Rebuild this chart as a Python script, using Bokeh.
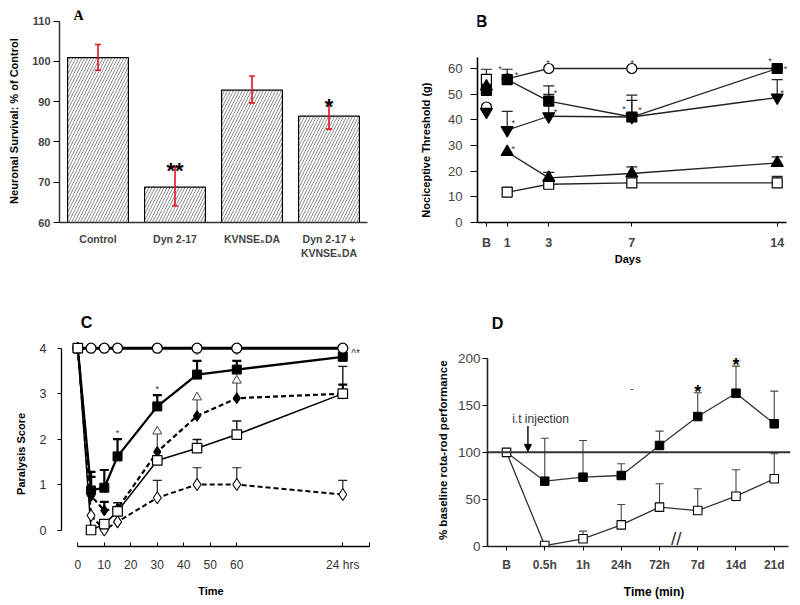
import math
from bokeh.plotting import figure
from bokeh.models import (Range1d, FixedTicker, Label, Whisker, TeeHead, Span,
                          Arrow, NormalHead, ColumnDataSource)
from bokeh.layouts import column, row
from bokeh.embed import file_html
from bokeh.resources import INLINE

FONT = "Liberation Sans"
SERIF = "Liberation Serif"
NAN = float("nan")
NB = "\u00a0"

# ---------------- Panel A data ----------------
a_categories = ["Control", "Dyn 2-17", "KVNSE\u2085DA", "Dyn 2-17 +\nKVNSE\u2085DA"]
a_mean = [100.95, 68.8, 92.9, 86.4]
a_err_low = [97.8, 64.1, 89.7, 83.2]
a_err_high = [104.2, 73.8, 96.4, 89.7]
a_sig = ["", "**", "", "*"]
a_yticks = [60, 70, 80, 90, 100, 110]

# ---------------- Panel B data ----------------
b_days = [0, 1, 3, 7, 14]
b_xlabels = ["B", "1", "3", "7", "14"]
b_yticks = [0, 10, 20, 30, 40, 50, 60]
b_open_circle = [45.0, 56.0, 60.0, 60.0, 60.0]
b_filled_square = [51.5, 55.7, 47.3, 41.1, 60.0]
b_down_tri = [43.1, 36.0, 41.4, 41.1, 48.7]
b_up_tri = [53.0, 27.5, 17.4, 19.1, 23.2]
b_open_square = [55.8, 11.8, 14.9, 15.4, 15.4]
b_open_square_err = [59.7, 13.6, 16.3, NAN, 18.0]
b_filled_square_err = [NAN, 59.7, 53.2, 49.6, NAN]
b_down_tri_err = [NAN, 43.3, 49.9, 47.6, 55.7]
b_up_tri_err = [NAN, NAN, 19.5, 21.7, 25.6]
# small significance asterisks (day, value)
b_star_day = [0.65, 1.45, 2.97, 3.32, 3.32, 1.29, 1.29, 7.02, 6.62, 7.39, 13.65, 14.4, 14.24]
b_star_val = [60.0, 57.4, 62.2, 50.5, 43.1, 38.6, 28.8, 62.2, 44.4, 44.0, 63.0, 60.0, 50.3]

# ---------------- Panel C data ----------------
c_time = [0, 5, 10, 15, 30, 45, 60, 100]          # 100 = the "24 hrs" slot of the broken axis
c_xticks = [0, 10, 20, 30, 40, 50, 60, 100, 110]
c_xlabels = ["0", "10", "20", "30", "40", "50", "60", "24 hrs", ""]
c_yticks = [0, 1, 2, 3, 4]
c_open_circle = [4, 4, 4, 4, 4, 4, 4, 4]
c_filled_square = [4, 0.87, 0.93, 1.62, 2.72, 3.42, 3.53, 3.81]
c_filled_square_err = [NAN, 1.28, 1.32, 2.0, 2.97, 3.72, 3.72, NAN]
c_filled_square_sig = ["", "", "", "*", "*", "*", "*", "^*"]
c_filled_diamond = [4, 0.75, 0.43, 0.47, 1.72, 2.51, 2.9, 3.0]
c_filled_diamond_err = [NAN, 1.17, 0.62, NAN, 2.17, 2.92, 3.29, 3.2]
c_filled_diamond_tri = [False, False, False, False, True, True, True, False]
c_open_square = [4, 0.0, 0.13, 0.41, 1.53, 1.8, 2.1, 3.0]
c_open_square_err = [NAN, NAN, NAN, 0.6, NAN, 1.99, 2.4, 3.6]
c_open_diamond = [4, 0.32, 0.0, 0.18, 0.71, 1.0, 1.0, 0.78]
c_open_diamond_err = [NAN, NAN, NAN, NAN, 1.09, 1.37, 1.37, 1.09]

# ---------------- Panel D data ----------------
d_labels = ["B", "0.5h", "1h", "24h", "72h", "7d", "14d", "21d"]
d_yticks = [0, 50, 100, 150, 200]
d_filled = [100, 69.4, 73.6, 75.4, 107.3, 138.0, 162.8, 130.3]
d_filled_err = [NAN, 115.0, 112.6, 87.8, 122.5, 163.2, 191.5, 165.0]
d_filled_sig = ["", "", "", "", "", "*", "*", ""]
d_open = [100, 1.0, 8.2, 23.0, 41.8, 38.2, 53.4, 71.9]
d_open_err = [NAN, NAN, 16.3, 44.6, 66.6, 61.3, 81.5, 98.5]
d_baseline = 100


def base_fig(width, height, xr, yr, left, right, top, bottom):
    p = figure(width=width, height=height, x_range=Range1d(*xr), y_range=Range1d(*yr),
               output_backend="svg", toolbar_location=None,
               min_border_left=left, min_border_right=right,
               min_border_top=top, min_border_bottom=bottom)
    p.grid.visible = False
    p.outline_line_color = None
    p.background_fill_color = "white"
    p.border_fill_color = "white"
    for ax in (p.xaxis[0], p.yaxis[0]):
        ax.minor_tick_line_color = None
        ax.major_label_text_font = FONT
        ax.axis_line_color = "black"
        ax.major_tick_line_color = "black"
        ax.axis_label_text_font = FONT
        ax.axis_label_text_font_style = "bold"
        ax.axis_label_text_color = "black"
    return p


def lab(p, x, y, text, size, bold=False, color="black", angle=0.0, font=FONT,
        align="center", baseline="middle"):
    p.add_layout(Label(x=x, y=y, text=text, text_font=font, text_font_size=f"{size}px",
                       text_font_style="bold" if bold else "normal", text_color=color,
                       angle=angle, text_align=align, text_baseline=baseline))


def err_bars(p, xs, ys, tops, cap, color, lw, head=True):
    pts = [(x, y, t) for x, y, t in zip(xs, ys, tops) if not math.isnan(t)]
    if not pts:
        return
    src = ColumnDataSource(dict(x=[a for a, _, _ in pts], lo=[b for _, b, _ in pts],
                                hi=[c for _, _, c in pts]))
    uh = TeeHead(size=cap, line_color=color, line_width=lw) if head else None
    p.add_layout(Whisker(source=src, base="x", lower="lo", upper="hi", dimension="height",
                         upper_head=uh, lower_head=None, line_color=color, line_width=lw))


# ======================= Panel A =======================
pA = base_fig(400, 300, (0, 4), (60, 112.65), 59, 33, 10, 32)
a_x = [i + 0.5 for i in range(len(a_categories))]
pA.vbar(x=a_x, top=a_mean, bottom=60, width=0.79, fill_color="white", line_color="black",
        line_width=1.2, hatch_pattern="/", hatch_color="#6a6a6a", hatch_scale=6,
        hatch_weight=0.75)
pA.add_layout(Whisker(source=ColumnDataSource(dict(x=a_x, lo=a_err_low, hi=a_err_high)),
                      base="x", lower="lo", upper="hi", line_color="#e0141e", line_width=1.6,
                      upper_head=TeeHead(size=6, line_color="#e0141e", line_width=1.6),
                      lower_head=TeeHead(size=6, line_color="#e0141e", line_width=1.6),
                      level="annotation"))
for x, hi, s in zip(a_x, a_err_high, a_sig):
    if s:
        lab(pA, x, hi - 0.8, s, 22, bold=True, baseline="alphabetic")
pA.yaxis.bounds = (60, 110)
pA.yaxis.ticker = FixedTicker(ticks=a_yticks)
pA.yaxis.major_label_text_font_style = "bold"
pA.yaxis.major_label_text_font_size = "11px"
pA.yaxis.major_tick_out = 6
pA.yaxis.major_tick_in = 0
pA.yaxis.major_label_standoff = 3
pA.yaxis.axis_label = "Neuronal Survival: % of Control" + NB * 3
pA.yaxis.axis_label_text_font_size = "11px"
pA.yaxis.axis_label_standoff = 9
pA.xaxis.ticker = FixedTicker(ticks=a_x)
pA.xaxis.major_label_overrides = {x: c for x, c in zip(a_x, a_categories)}
pA.xaxis.major_label_text_font_style = "bold"
pA.xaxis.major_label_text_font_size = "10.5px"
pA.xaxis.major_tick_line_color = None
pA.xaxis.major_label_standoff = 4
for ax in (pA.xaxis[0], pA.yaxis[0]):
    ax.axis_line_color = "#333"
    ax.axis_line_width = 1.5
lab(pA, 0.247, 111.5, "A", 14, bold=True, font=SERIF)

# ======================= Panel B =======================
pB = base_fig(400, 300, (-0.43, 14.64), (0, 82.6), 77, 10, 10, 78)
LC = "#222"
series_b = [
    (b_open_circle, "circle", 10, "white"),
    (b_open_square, "square", 10, "white"),
    (b_up_tri, "triangle", 12, "black"),
    (b_down_tri, "inverted_triangle", 12, "black"),
    (b_filled_square, "square", 10, "black"),
]
for vals, mk, sz, fc in series_b:
    pB.line(b_days[1:], vals[1:], line_color=LC, line_width=1.3)
err_bars(pB, b_days, b_open_square, b_open_square_err, 11, LC, 1.2)
err_bars(pB, b_days, b_filled_square, b_filled_square_err, 11, LC, 1.2)
err_bars(pB, b_days, b_down_tri, b_down_tri_err, 11, LC, 1.2)
err_bars(pB, b_days, b_up_tri, b_up_tri_err, 11, LC, 1.2)
for vals, mk, sz, fc in series_b:
    pB.scatter(b_days, vals, marker=mk, size=sz, fill_color=fc, line_color="black",
               line_width=1.2)
for d, v in zip(b_star_day, b_star_val):
    lab(pB, d, v, "*", 9, color="#333")
pB.yaxis.bounds = (0, 64.4)
pB.xaxis.bounds = (-0.43, 14.45)
pB.yaxis.ticker = FixedTicker(ticks=b_yticks)
pB.yaxis.major_label_text_font_size = "13px"
pB.yaxis.major_label_text_color = "#444"
pB.yaxis.major_tick_out = 7
pB.yaxis.major_tick_in = 0
pB.yaxis.major_label_standoff = 8
pB.yaxis.axis_label = "Nociceptive Threshold (g)" + NB * 22
pB.yaxis.axis_label_text_font_size = "11px"
pB.yaxis.axis_label_standoff = 13
pB.xaxis.ticker = FixedTicker(ticks=b_days)
pB.xaxis.major_label_overrides = {d: s for d, s in zip(b_days, b_xlabels)}
pB.xaxis.major_label_text_font_style = "bold"
pB.xaxis.major_label_text_font_size = "12.5px"
pB.xaxis.major_tick_out = 4
pB.xaxis.major_tick_in = 0
pB.xaxis.major_label_standoff = 9
pB.xaxis.axis_label = "Days" + NB * 4
pB.xaxis.axis_label_text_font_size = "11px"
pB.xaxis.axis_label_standoff = 0
for ax in (pB.xaxis[0], pB.yaxis[0]):
    ax.axis_line_width = 1.6
lab(pB, -0.24, 78.3, "B", 16, bold=True)

# ======================= Panel C =======================
pC = base_fig(400, 304, (-6.15, 111.21), (-0.363, 4.786), 61, 28, 6, 57)
pC.line(c_time, c_open_diamond, line_color="black", line_width=2, line_dash="5 3")
pC.line(c_time, c_filled_diamond, line_color="black", line_width=2.2, line_dash="5 3")
pC.line(c_time, c_open_square, line_color="black", line_width=1.5)
pC.line(c_time, c_filled_square, line_color="black", line_width=2.3)
pC.line(c_time, c_open_circle, line_color="black", line_width=3)
err_bars(pC, c_time, c_open_diamond, c_open_diamond_err, 9, "#222", 1.2)
err_bars(pC, c_time, c_open_square, c_open_square_err, 9, "#111", 1.4)
capped = [e if not t else NAN for e, t in zip(c_filled_diamond_err, c_filled_diamond_tri)]
tipped = [e if t else NAN for e, t in zip(c_filled_diamond_err, c_filled_diamond_tri)]
err_bars(pC, c_time, c_filled_diamond, capped, 9, "black", 2.2)
err_bars(pC, c_time, c_filled_diamond, tipped, 9, "#444", 1.2, head=False)
err_bars(pC, c_time, c_filled_square, c_filled_square_err, 9, "black", 2.2)
tri_x = [t for t, e in zip(c_time, tipped) if not math.isnan(e)]
tri_y = [e for e in tipped if not math.isnan(e)]
pC.scatter(tri_x, tri_y, marker="triangle", size=9, fill_color="white", line_color="#444",
           line_width=1)
pC.scatter(c_time, c_open_diamond, marker="diamond", size=12, fill_color="white",
           line_color="black", line_width=1.1)
pC.scatter(c_time, c_filled_diamond, marker="diamond", size=11, fill_color="black",
           line_color="black")
pC.scatter(c_time, c_filled_square, marker="square", size=9, fill_color="black",
           line_color="black")
pC.scatter(c_time, c_open_circle, marker="circle", size=10, fill_color="white",
           line_color="black", line_width=1.3)
pC.scatter(c_time, c_open_square, marker="square", size=9.5, fill_color="white",
           line_color="black", line_width=1.2)
for t, v, e, s in zip(c_time, c_filled_square, c_filled_square_err, c_filled_square_sig):
    if s == "*":
        lab(pC, t, e + 0.14, s, 9, color="#333")
    elif s:
        lab(pC, t + 3.2, v + 0.07, s, 10, color="#333", align="left")
pC.xaxis.bounds = (0, 110)
pC.yaxis.bounds = (0, 4)
pC.xaxis.ticker = FixedTicker(ticks=c_xticks)
pC.xaxis.major_label_overrides = {t: s for t, s in zip(c_xticks, c_xlabels)}
pC.xaxis.major_label_text_font_size = "12px"
pC.xaxis.major_label_text_color = "#333"
pC.xaxis.major_tick_in = 4
pC.xaxis.major_tick_out = 0
pC.xaxis.major_label_standoff = 11
pC.xaxis.axis_label = "Time" + NB * 4
pC.xaxis.axis_label_text_font_size = "11px"
pC.xaxis.axis_label_standoff = 10
pC.yaxis.ticker = FixedTicker(ticks=c_yticks)
pC.yaxis.major_label_text_font_size = "12.5px"
pC.yaxis.major_label_text_color = "#333"
pC.yaxis.major_tick_out = 4
pC.yaxis.major_tick_in = 0
pC.yaxis.major_label_standoff = 11
pC.yaxis.axis_label = "Paralysis Score" + NB * 16
pC.yaxis.axis_label_text_font_size = "11px"
pC.yaxis.axis_label_standoff = 10
for ax in (pC.xaxis[0], pC.yaxis[0]):
    ax.axis_line_width = 1.3
lab(pC, 3.3, 4.57, "C", 16, bold=True)

# ======================= Panel D =======================
pD = base_fig(400, 304, (-0.497, 7.425), (0, 248.5), 87, 10, 12, 58)
d_x = list(range(len(d_labels)))
pD.add_layout(Span(location=d_baseline, dimension="width", line_color="#333", line_width=2))
err_bars(pD, d_x, d_filled, d_filled_err, 8, "#444", 1.1)
err_bars(pD, d_x, d_open, d_open_err, 8, "#444", 1.1)
pD.line(d_x, d_filled, line_color="#333", line_width=1.3)
pD.line(d_x, d_open, line_color="#333", line_width=1.3)
pD.scatter(d_x[1:], d_filled[1:], marker="square", size=8.5, fill_color="black",
           line_color="black")
pD.scatter(d_x, d_open, marker="square", size=8.5, fill_color="white", line_color="black",
           line_width=1.1)
for x, e, s in zip(d_x, d_filled_err, d_filled_sig):
    if s:
        lab(pD, x, e + 1, s, 18, bold=True, baseline="alphabetic")
pD.yaxis.bounds = (0, 200)
pD.xaxis.bounds = (-0.497, 7.37)
pD.yaxis.ticker = FixedTicker(ticks=d_yticks)
pD.yaxis.major_label_text_font_size = "13.5px"
pD.yaxis.major_label_text_color = "#444"
pD.yaxis.major_tick_out = 5
pD.yaxis.major_tick_in = 0
pD.yaxis.major_label_standoff = 2
pD.yaxis.axis_label = "% baseline rota-rod performance" + NB * 13
pD.yaxis.axis_label_text_font_size = "11.5px"
pD.yaxis.axis_label_standoff = 6
pD.xaxis.ticker = FixedTicker(ticks=d_x)
pD.xaxis.major_label_overrides = {x: s for x, s in zip(d_x, d_labels)}
pD.xaxis.major_label_text_font_style = "bold"
pD.xaxis.major_label_text_font_size = "12px"
pD.xaxis.major_tick_out = 4
pD.xaxis.major_tick_in = 0
pD.xaxis.major_label_standoff = 7
pD.xaxis.axis_label = NB * 9 + "Time (min)"
pD.xaxis.axis_label_text_font_size = "12px"
pD.xaxis.axis_label_standoff = 10
for ax in (pD.xaxis[0], pD.yaxis[0]):
    ax.axis_line_width = 1.6
    ax.axis_line_color = "#222"
pD.add_layout(Arrow(end=NormalHead(size=7, fill_color="black", line_color="black"),
                    x_start=0.56, y_start=128, x_end=0.56, y_end=101,
                    line_color="black", line_width=1.4))
lab(pD, 0.89, 134.9, "i.t injection", 12, color="#333")
lab(pD, 4.44, 8, "//", 19, color="#333")
lab(pD, 3.28, 168, "-", 10, color="#333")
lab(pD, -0.235, 236.9, "D", 16, bold=True)

layout = column(row(pA, pB), row(pC, pD))
open("out.html", "w").write(file_html(layout, INLINE))
